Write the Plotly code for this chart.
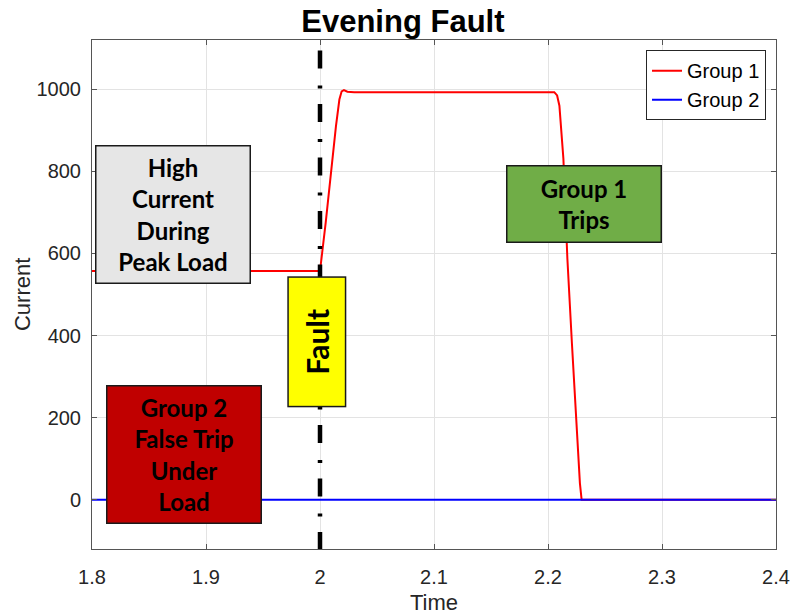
import plotly.graph_objects as go

# ---- data ----
group1_time = [1.8, 2.0, 2.005, 2.010, 2.014, 2.017, 2.019, 2.021, 2.024, 2.030,
               2.2055, 2.208, 2.210, 2.2135, 2.217, 2.221, 2.225, 2.228, 2.2295, 2.4]
group1_current = [557, 557, 675, 810, 910, 975, 995, 998, 994, 993,
                  993, 985, 960, 831, 587, 380, 180, 40, 0, 0]
group2_time = [1.8, 2.4]
group2_current = [0, 0]
fault_time = 2.0

x_range = [1.8, 2.4]
y_range = [-120, 1120]
x_ticks = [1.8, 1.9, 2.0, 2.1, 2.2, 2.3, 2.4]
x_ticklabels = ["1.8", "1.9", "2", "2.1", "2.2", "2.3", "2.4"]
y_ticks = [0, 200, 400, 600, 800, 1000]

FONT = "Liberation Sans, Arial, sans-serif"
BOXFONT = "Lato, Carlito, Calibri, sans-serif"
TXT = "#262626"

fig = go.Figure()
fig.add_trace(go.Scatter(x=group1_time, y=group1_current, mode="lines", name="Group 1",
                         line=dict(color="#ff0000", width=2)))
fig.add_trace(go.Scatter(x=group2_time, y=group2_current, mode="lines", name="Group 2",
                         line=dict(color="#0000ff", width=2)))

fig.add_shape(type="line", xref="x", yref="y", x0=fault_time, x1=fault_time,
              y0=y_range[1] + 105, y1=y_range[0] - 10, layer="above",
              line=dict(color="black", width=4.5, dash="18px,17px,3px,15.5px"))

def box(x, y, text, bg, w, h, size=24, angle=0):
    return dict(x=x, y=y, xref="x", yref="y", text=text, showarrow=False,
                font=dict(family=BOXFONT, size=size, color="black", weight="bold"),
                bgcolor=bg, bordercolor="#1a1a1a", borderwidth=1.5, borderpad=0,
                width=w, height=h, align="center", valign="middle", textangle=angle)

annotations = [
    box(1.8714, 695, "High<br>Current<br>During<br>Peak Load", "#e6e6e6", 153, 136),
    box(1.8811, 110, "Group 2<br>False Trip<br>Under<br>Load", "#c00000", 153, 136),
    box(2.2317, 720.5, "Group 1<br>Trips", "#70ad47", 153, 75),
    box(1.9972, 385.5, "Fault", "#ffff00", 128, 56, size=30, angle=-90),
    dict(text="Current", xref="paper", yref="paper", x=-0.1015, y=0.5,
         xanchor="center", yanchor="middle", textangle=-90, showarrow=False,
         font=dict(family=FONT, size=22, color=TXT)),
]

axis_common = dict(showgrid=True, gridcolor="#e3e3e3", gridwidth=1,
                   showline=True, linecolor="#555555", linewidth=1, mirror="ticks",
                   ticks="inside", ticklen=5, tickcolor="#555555", zeroline=False,
                   automargin=False,
                   tickfont=dict(family=FONT, size=20, color=TXT))

fig.update_layout(
    width=790, height=615,
    margin=dict(l=91.5, r=14, t=40, b=66, autoexpand=False),
    paper_bgcolor="white", plot_bgcolor="white",
    title=dict(text="<b>Evening Fault</b>", x=0.51, xanchor="center", y=1 - 21 / 615,
               yanchor="middle", font=dict(family=FONT, size=31, color="black")),
    xaxis=dict(range=x_range, tickvals=x_ticks, ticktext=x_ticklabels,
               ticklabelstandoff=10,
               title=dict(text="Time", font=dict(family=FONT, size=22, color=TXT)),
               **axis_common),
    yaxis=dict(range=y_range, tickvals=y_ticks, ticklabelstandoff=6,
               **axis_common),
    legend=dict(x=0.9854, y=0.980, xanchor="right", yanchor="top",
                bgcolor="white", bordercolor="#262626", borderwidth=1,
                font=dict(family=FONT, size=20, color="black"),
                tracegroupgap=0, itemwidth=30),
    annotations=annotations,
    showlegend=True,
)

fig.write_html("out.html", config={"displayModeBar": False},
               post_script="document.body.style.margin='0';document.body.style.padding='0';"
                           "document.body.style.overflow='hidden';")
